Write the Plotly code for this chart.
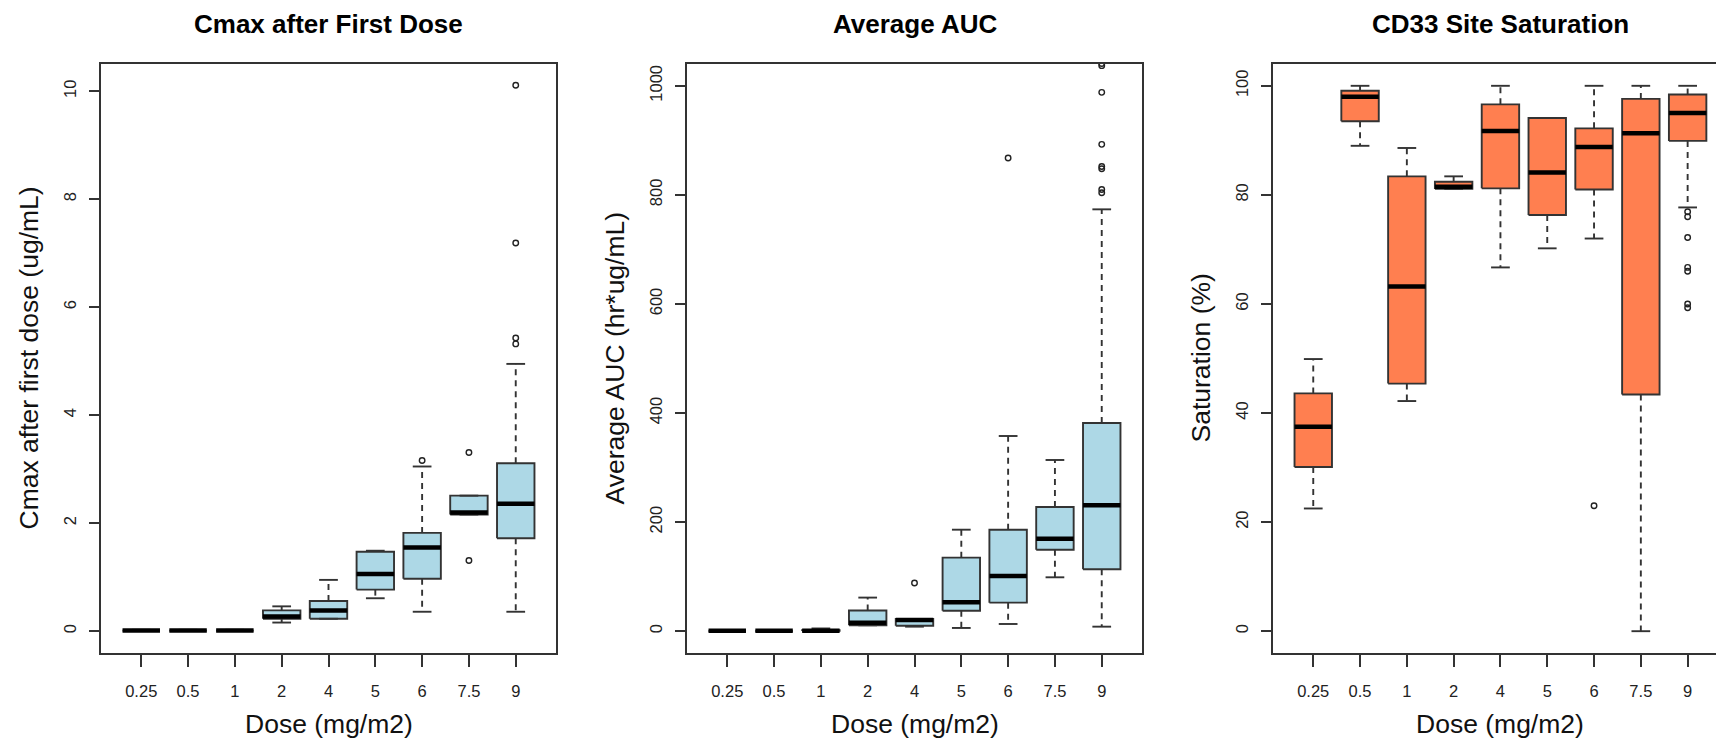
import plotly.graph_objects as go

# Dose groups shared by all three panels
doses = ["0.25", "0.5", "1", "2", "4", "5", "6", "7.5", "9"]

# Cmax after first dose (ug/mL): whisker ends, quartiles, medians, outliers
cmax_lower = [0.005, 0.005, 0.005, 0.16, 0.23, 0.61, 0.36, 2.16, 0.36]
cmax_q1 = [0.010, 0.010, 0.010, 0.23, 0.23, 0.77, 0.97, 2.16, 1.72]
cmax_median = [0.015, 0.015, 0.015, 0.27, 0.385, 1.06, 1.55, 2.20, 2.36]
cmax_q3 = [0.020, 0.020, 0.020, 0.385, 0.56, 1.47, 1.82, 2.51, 3.11]
cmax_upper = [0.025, 0.025, 0.025, 0.46, 0.95, 1.49, 3.05, 2.51, 4.95]
cmax_outliers = [[], [], [], [], [], [], [3.16], [3.31, 1.31],
                 [5.32, 5.43, 7.19, 10.11]]

# Average AUC (hr*ug/mL)
auc_lower = [0.0, 0.0, 0.2, 10.8, 8.3, 5.9, 13.2, 98.8, 8.3]
auc_q1 = [0.3, 0.3, 0.5, 10.8, 10.1, 37.6, 52.3, 149.4, 113.5]
auc_median = [0.6, 0.6, 1.0, 15.6, 20.5, 53.0, 101.2, 169.6, 230.8]
auc_q3 = [0.9, 0.9, 2.0, 37.8, 22.4, 134.8, 186.1, 227.7, 381.7]
auc_upper = [1.2, 1.2, 5.0, 61.6, 22.4, 186.1, 357.9, 313.9, 773.5]
auc_outliers = [[], [], [], [], [88.4], [], [867.6], [],
                [804, 810, 848, 852, 892.7, 988, 1037, 1041]]

# CD33 site saturation (%)
sat_lower = [22.5, 89.0, 42.2, 81.1, 66.7, 70.2, 72.0, 0.0, 77.7]
sat_q1 = [30.1, 93.5, 45.4, 81.1, 81.2, 76.3, 81.0, 43.4, 89.9]
sat_median = [37.5, 98.0, 63.2, 81.5, 91.7, 84.1, 88.8, 91.3, 95.0]
sat_q3 = [43.6, 99.1, 83.4, 82.4, 96.6, 94.1, 92.2, 97.6, 98.4]
sat_upper = [49.9, 100.0, 88.6, 83.4, 100.0, 94.1, 100.0, 100.0, 100.0]
sat_outliers = [[], [], [], [], [], [], [23.0], [],
                [76.0, 76.9, 72.2, 66.0, 66.7, 59.3, 60.0]]

titles = ["Cmax after First Dose", "Average AUC", "CD33 Site Saturation"]
y_titles = ["Cmax after first dose (ug/mL)", "Average AUC (hr*ug/mL)",
            "Saturation (%)"]
x_title = "Dose (mg/m2)"
y_ticks = [[0, 2, 4, 6, 8, 10],
           [0, 200, 400, 600, 800, 1000],
           [0, 20, 40, 60, 80, 100]]

FONT = "Liberation Sans, Arial, sans-serif"
INK = "#333333"
LW = 1.9
W, H = 1716, 742

panels = [
    dict(lower=cmax_lower, q1=cmax_q1, med=cmax_median, q3=cmax_q3,
         upper=cmax_upper, out=cmax_outliers, fill="#ADD8E6",
         yrange=[-0.404, 10.504], xdom=[101, 556], xrange=[0.14, 9.86],
         mirror_y=True),
    dict(lower=auc_lower, q1=auc_q1, med=auc_median, q3=auc_q3,
         upper=auc_upper, out=auc_outliers, fill="#ADD8E6",
         yrange=[-40, 1040], xdom=[687, 1142], xrange=[0.14, 9.86],
         mirror_y=True),
    dict(lower=sat_lower, q1=sat_q1, med=sat_median, q3=sat_q3,
         upper=sat_upper, out=sat_outliers, fill="#FF7F50",
         yrange=[-4, 104], xdom=[1273, 1716], xrange=[0.14, 9.606],
         mirror_y=False),
]

PLOT_TOP, PLOT_BOTTOM = 64, 653
ydom = [1 - PLOT_BOTTOM / H, 1 - PLOT_TOP / H]

BOX_HALF = 0.4      # box width 0.8
STAPLE_HALF = 0.2   # staple width 0.4

fig = go.Figure()
layout_axes = {}
annotations = []

for i, p in enumerate(panels):
    n = i + 1
    xa = "x" if n == 1 else f"x{n}"
    ya = "y" if n == 1 else f"y{n}"
    pos = list(range(1, len(doses) + 1))

    # boxes
    bx, by = [], []
    for k, c in enumerate(pos):
        bx += [c - BOX_HALF, c + BOX_HALF, c + BOX_HALF, c - BOX_HALF,
               c - BOX_HALF, None]
        by += [p["q1"][k], p["q1"][k], p["q3"][k], p["q3"][k], p["q1"][k],
               None]
    fig.add_trace(go.Scatter(x=bx, y=by, xaxis=xa, yaxis=ya, mode="lines",
                             fill="toself", fillcolor=p["fill"],
                             line=dict(color=INK, width=LW),
                             hoverinfo="skip", showlegend=False))

    # dashed whiskers
    wx, wy = [], []
    for k, c in enumerate(pos):
        wx += [c, c, None, c, c, None]
        wy += [p["q3"][k], p["upper"][k], None, p["q1"][k], p["lower"][k],
               None]
    fig.add_trace(go.Scatter(x=wx, y=wy, xaxis=xa, yaxis=ya, mode="lines",
                             line=dict(color=INK, width=LW,
                                       dash="6px,5px"),
                             hoverinfo="skip", showlegend=False))

    # staples
    sx, sy = [], []
    for k, c in enumerate(pos):
        for v in (p["upper"][k], p["lower"][k]):
            sx += [c - STAPLE_HALF, c + STAPLE_HALF, None]
            sy += [v, v, None]
    fig.add_trace(go.Scatter(x=sx, y=sy, xaxis=xa, yaxis=ya, mode="lines",
                             line=dict(color=INK, width=LW),
                             hoverinfo="skip", showlegend=False))

    # medians
    mx, my = [], []
    for k, c in enumerate(pos):
        mx += [c - BOX_HALF, c + BOX_HALF, None]
        my += [p["med"][k], p["med"][k], None]
    fig.add_trace(go.Scatter(x=mx, y=my, xaxis=xa, yaxis=ya, mode="lines",
                             line=dict(color="#000000", width=4.5),
                             hoverinfo="skip", showlegend=False))

    # outliers
    ox, oy = [], []
    for k, c in enumerate(pos):
        for v in p["out"][k]:
            ox.append(c)
            oy.append(v)
    fig.add_trace(go.Scatter(x=ox, y=oy, xaxis=xa, yaxis=ya, mode="markers",
                             marker=dict(symbol="circle-open", size=5.5,
                                         color="#222222",
                                         line=dict(width=1.4)),
                             hoverinfo="skip", showlegend=False))

    xkey = "xaxis" if n == 1 else f"xaxis{n}"
    ykey = "yaxis" if n == 1 else f"yaxis{n}"
    layout_axes[xkey] = dict(
        domain=[p["xdom"][0] / W, p["xdom"][1] / W], range=p["xrange"],
        anchor=ya, tickmode="array", tickvals=pos, ticktext=doses,
        ticks="outside", ticklen=12, tickwidth=LW, tickcolor=INK,
        showline=True, linecolor=INK, linewidth=LW, mirror=True,
        showgrid=False, zeroline=False, fixedrange=True,
        tickfont=dict(family=FONT, size=16.5, color="#222222"),
        ticklabelstandoff=10)
    layout_axes[ykey] = dict(
        domain=ydom, range=p["yrange"], anchor=xa, tickmode="array",
        tickvals=y_ticks[i], ticks="outside", ticklen=10, tickwidth=LW,
        tickcolor=INK, tickangle=-90, showline=True, linecolor=INK,
        linewidth=LW, mirror=p["mirror_y"], showgrid=False, zeroline=False,
        fixedrange=True,
        tickfont=dict(family=FONT, size=16.5, color="#222222"),
        ticklabelstandoff=6)

    # panel title
    annotations.append(dict(
        text=titles[i], xref=xa, x=5, yref="paper", y=1 - 24 / H,
        xanchor="center", yanchor="middle", showarrow=False,
        font=dict(family=FONT, size=26, color="#000000", weight="bold")))
    # x axis title
    annotations.append(dict(
        text=x_title, xref=xa, x=5, yref="paper", y=1 - 724 / H,
        xanchor="center", yanchor="middle", showarrow=False,
        font=dict(family=FONT, size=26.5, color="#111111")))
    # y axis title
    annotations.append(dict(
        text=y_titles[i], xref="paper", x=(p["xdom"][0] - 73) / W,
        yref="paper", y=1 - (PLOT_TOP + PLOT_BOTTOM) / 2 / H,
        xanchor="center", yanchor="middle", textangle=-90, showarrow=False,
        font=dict(family=FONT, size=26.5, color="#111111")))

fig.update_layout(
    width=W, height=H, margin=dict(l=0, r=0, t=0, b=0),
    paper_bgcolor="white", plot_bgcolor="white",
    annotations=annotations, **layout_axes)

fig.write_html("out.html")
